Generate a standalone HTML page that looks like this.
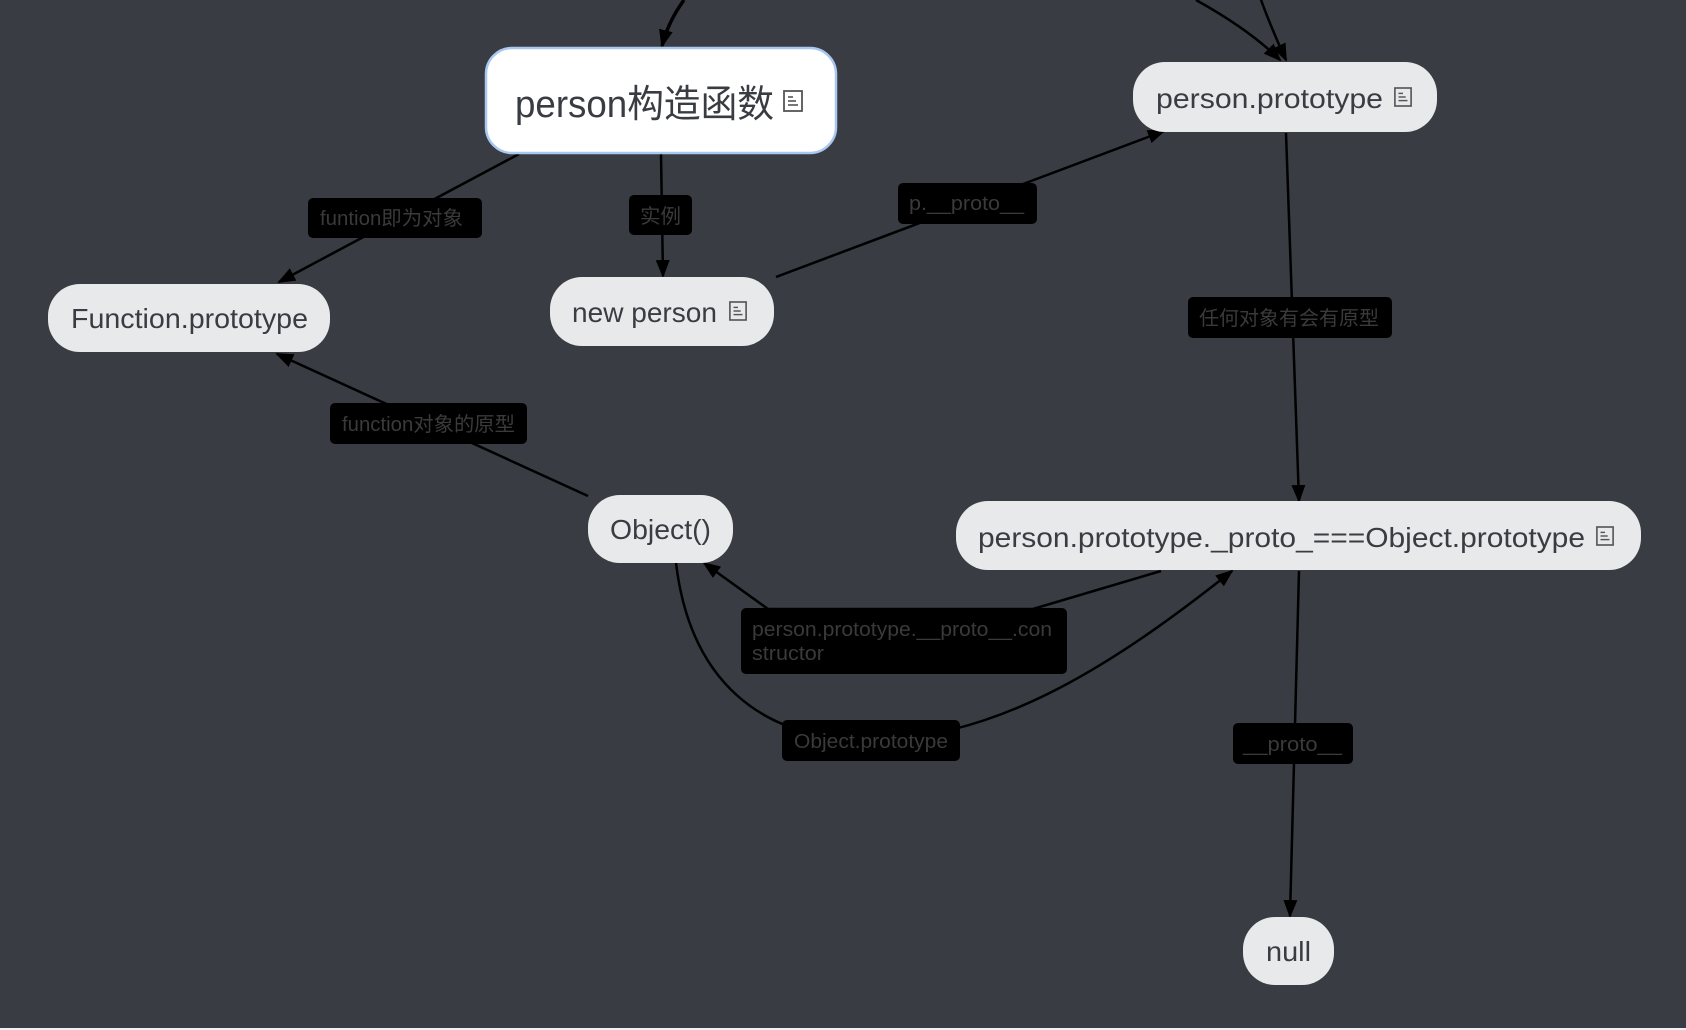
<!DOCTYPE html>
<html><head><meta charset="utf-8"><style>
html,body{margin:0;padding:0;background:#393c42;}
svg{display:block}
text{font-family:"Liberation Sans","Noto Sans CJK SC",sans-serif;}
.n{fill:#393c42}
.l{fill:#3a3a3a;font-size:20px}
</style></head><body>
<svg width="1686" height="1030" viewBox="0 0 1686 1030">
<defs>
<marker id="a" markerWidth="18" markerHeight="16" refX="16" refY="8" orient="auto" markerUnits="userSpaceOnUse">
<path d="M0,1 L18,8 L0,15 Z" fill="#000"/></marker>
<symbol id="ic" viewBox="0 0 20 22"><rect x="1" y="1" width="18" height="20" fill="none" stroke="#555" stroke-width="1.8"/><line x1="5" y1="7" x2="10" y2="7" stroke="#555" stroke-width="1.6"/><line x1="5" y1="11" x2="13" y2="11" stroke="#555" stroke-width="1.6"/><line x1="5" y1="15" x2="15" y2="15" stroke="#555" stroke-width="1.6"/></symbol>
</defs>
<rect width="1686" height="1030" fill="#393c42"/>
<g stroke="#000" stroke-width="2.5" fill="none">
<path d="M684,0 Q668,22 662,46" marker-end="url(#a)" stroke-width="3.5"/>
<path d="M1196,0 Q1250,30 1280,60" marker-end="url(#a)"/>
<path d="M1261,0 Q1272,30 1286,60" marker-end="url(#a)"/>
<path d="M519,154 L279,282" marker-end="url(#a)"/>
<path d="M661,154 L663,276" marker-end="url(#a)"/>
<path d="M776,277 L1164,131" marker-end="url(#a)"/>
<path d="M1286,133 L1299,501" marker-end="url(#a)"/>
<path d="M588,496 L277,354" marker-end="url(#a)"/>
<path d="M1161,571 L1033,609 L768,609 L704,563" marker-end="url(#a)"/>
<path d="M676,563 C690,680 760,740 870,740 C1000,740 1120,660 1232,571" marker-end="url(#a)"/>
<path d="M1299,571 L1290,916" marker-end="url(#a)"/>
</g>
<rect x="308" y="198" width="174" height="40" rx="5" fill="#000"/>
<text class="l" x="320" y="225" textLength="143" lengthAdjust="spacingAndGlyphs">funtion即为对象</text>
<rect x="629" y="195" width="63" height="40" rx="5" fill="#000"/>
<text class="l" x="640" y="223" textLength="41" lengthAdjust="spacingAndGlyphs">实例</text>
<rect x="898" y="183" width="139" height="41" rx="5" fill="#000"/>
<text class="l" x="909" y="210" textLength="115" lengthAdjust="spacingAndGlyphs">p.__proto__</text>
<rect x="1188" y="297" width="204" height="41" rx="5" fill="#000"/>
<text class="l" x="1199" y="325" textLength="180" lengthAdjust="spacingAndGlyphs">任何对象有会有原型</text>
<rect x="330" y="403" width="197" height="41" rx="5" fill="#000"/>
<text class="l" x="342" y="431" textLength="173" lengthAdjust="spacingAndGlyphs">function对象的原型</text>
<rect x="741" y="608" width="326" height="66" rx="5" fill="#000"/>
<text class="l" x="752" y="636" textLength="300" lengthAdjust="spacingAndGlyphs">person.prototype.__proto__.con</text>
<text class="l" x="752" y="660" textLength="72" lengthAdjust="spacingAndGlyphs">structor</text>
<rect x="782" y="720" width="178" height="41" rx="5" fill="#000"/>
<text class="l" x="794" y="748" textLength="154" lengthAdjust="spacingAndGlyphs">Object.prototype</text>
<rect x="1233" y="723" width="120" height="41" rx="5" fill="#000"/>
<text class="l" x="1243" y="751" textLength="99" lengthAdjust="spacingAndGlyphs">__proto__</text>
<rect x="486" y="48" width="350" height="105" rx="26" fill="#fff" stroke="#a9c8f0" stroke-width="2.5"/>
<text class="n" x="515" y="117" font-size="38" textLength="259" lengthAdjust="spacingAndGlyphs">person构造函数</text>
<use href="#ic" x="783" y="90" width="20" height="22"/>
<rect x="1133" y="62" width="304" height="70" rx="32" fill="#e8e9eb"/>
<text class="n" x="1156" y="108" font-size="28" textLength="227" lengthAdjust="spacingAndGlyphs">person.prototype</text>
<use href="#ic" x="1394" y="87" width="18" height="20"/>
<rect x="48" y="284" width="282" height="68" rx="32" fill="#e8e9eb"/>
<text class="n" x="71" y="328" font-size="28" textLength="237" lengthAdjust="spacingAndGlyphs">Function.prototype</text>
<rect x="550" y="277" width="224" height="69" rx="32" fill="#e8e9eb"/>
<text class="n" x="572" y="322" font-size="28" textLength="145" lengthAdjust="spacingAndGlyphs">new person</text>
<use href="#ic" x="729" y="301" width="18" height="20"/>
<rect x="588" y="495" width="145" height="68" rx="32" fill="#e8e9eb"/>
<text class="n" x="610" y="539" font-size="28" textLength="101" lengthAdjust="spacingAndGlyphs">Object()</text>
<rect x="956" y="501" width="685" height="69" rx="32" fill="#e8e9eb"/>
<text class="n" x="978" y="547" font-size="28" textLength="607" lengthAdjust="spacingAndGlyphs">person.prototype._proto_===Object.prototype</text>
<use href="#ic" x="1596" y="526" width="18" height="20"/>
<rect x="1243" y="917" width="91" height="68" rx="32" fill="#e8e9eb"/>
<text class="n" x="1266" y="961" font-size="28" textLength="45" lengthAdjust="spacingAndGlyphs">null</text>
<rect x="0" y="1028" width="1686" height="2" fill="#f0f0f0"/>
</svg>
</body></html>
